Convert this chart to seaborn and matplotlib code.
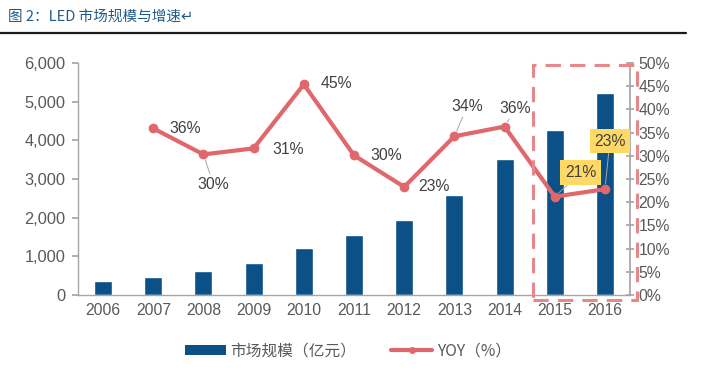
import numpy as np
import pandas as pd
import matplotlib
matplotlib.use("Agg")
import matplotlib.pyplot as plt
from matplotlib.patches import Rectangle
from matplotlib.lines import Line2D
import matplotlib.transforms as mtransforms
import seaborn as sns

years = ["2006", "2007", "2008", "2009", "2010", "2011", "2012", "2013", "2014", "2015", "2016"]
market_size = [370, 475, 630, 830, 1215, 1550, 1940, 2585, 3515, 4265, 5225]
yoy_years = ["2007", "2008", "2009", "2010", "2011", "2012", "2013", "2014", "2015", "2016"]
yoy = [35.9, 30.3, 31.6, 45.4, 30.1, 23.3, 34.2, 36.3, 21.2, 22.8]
yoy_labels = ["36%", "30%", "31%", "45%", "30%", "23%", "34%", "36%", "21%", "23%"]
left_ticks = [0, 1000, 2000, 3000, 4000, 5000, 6000]
right_ticks = [0, 5, 10, 15, 20, 25, 30, 35, 40, 45, 50]
title = "图 2：LED 市场规模与增速"
legend_bar = "市场规模（亿元）"
legend_line = "YOY（%）"

sns.set_theme(style="white")
plt.rcParams["font.family"] = ["Liberation Sans", "Noto Sans CJK SC", "DejaVu Sans"]

BAR = "#0B5087"
LINE = "#E0676C"
TXT = "#595959"
AXC = "#A6A6A6"

fig = plt.figure(figsize=(7.26, 3.74), dpi=100)
ax = fig.add_axes([78 / 726, 1 - 295 / 374, (630 - 78) / 726, (295 - 63) / 374])

df = pd.DataFrame({"year": years, "size": market_size})
sns.barplot(data=df, x="year", y="size", color=BAR, width=0.36, ax=ax,
            saturation=1, order=years)
ax.set_xlim(-0.5, len(years) - 0.5)
ax.set_ylim(0, 6000)
ax.set_yticks(left_ticks)
ax.set_yticklabels([f"{v:,}" for v in left_ticks])
ax.set_xlabel("")
ax.set_ylabel("")
for s in ["top", "right"]:
    ax.spines[s].set_visible(False)
for s in ["left", "bottom"]:
    ax.spines[s].set_color(AXC)
    ax.spines[s].set_linewidth(1.0)
ax.set_xticks(range(len(years)))
ax.set_xticklabels(years)
ax.tick_params(axis="x", length=0, labelsize=11.3, labelcolor=TXT, pad=6)
ax.set_xticks(np.arange(-0.5, len(years), 1.0), minor=True)
ax.tick_params(axis="x", which="minor", length=4, color=AXC, direction="out")
ax.tick_params(axis="y", length=4, color=AXC, direction="out", labelsize=11.8,
               labelcolor=TXT, left=True, pad=5)

ax2 = ax.twinx()
xpos = [years.index(y) for y in yoy_years]
ldf = pd.DataFrame({"x": xpos, "yoy": yoy})
sns.lineplot(data=ldf, x="x", y="yoy", ax=ax2, color=LINE, linewidth=3,
             marker="o", markersize=7, markeredgewidth=0, legend=False)
ax2.set_ylim(0, 50)
ax2.set_xlim(-0.5, len(years) - 0.5)
ax2.set_yticks(right_ticks)
ax2.set_yticklabels([f"{v}%" for v in right_ticks])
ax2.set_xlabel("")
ax2.set_ylabel("")
for s in ["top", "left", "bottom"]:
    ax2.spines[s].set_visible(False)
ax2.spines["right"].set_color(AXC)
ax2.tick_params(axis="y", length=6, color=AXC, direction="inout", labelsize=11.3,
                labelcolor=TXT, right=True, pad=3)

# data labels (offsets in pixels)
offsets = [(32, 0), (10, -30), (34, -1), (33, 1), (32, 0), (30, 0), (13, 30), (11, 18), (26, 24), (5, 48)]
leaders = [False, True, False, False, False, False, True, True, True, True]
for i, (xp, v, lab) in enumerate(zip(xpos, yoy, yoy_labels)):
    dx, dy = offsets[i]
    boxed = i >= 8
    kw = dict(textcoords="offset pixels", xytext=(dx, dy), ha="center", va="center",
              fontsize=11.3, color="#404040", family=["Liberation Sans", "DejaVu Sans"])
    if boxed:
        kw["bbox"] = dict(boxstyle="square,pad=0.3", fc="#FFD966", ec="none")
    if leaders[i]:
        kw["arrowprops"] = dict(arrowstyle="-", color="#A6A6A6", lw=0.7, shrinkA=0, shrinkB=4)
    ax2.annotate(lab, xy=(xp, v), zorder=6, **kw)

# dashed highlight rectangle around 2015-2016
trans = mtransforms.blended_transform_factory(ax.transData, ax.transAxes)
rect = Rectangle((8.57, -0.02), 10.64 - 8.57, 1.01, transform=trans, fill=False,
                 ec="#E8878B", lw=2.2, ls=(0, (5, 3)), clip_on=False, zorder=10)
fig.add_artist(rect)

# title and separator line
fig.text(8 / 726, 1 - 17 / 374, title + "↵", fontsize=10.5, color="#1F5A8A",
         family=["Noto Sans CJK SC", "DejaVu Sans"], va="center", ha="left")
fig.add_artist(Line2D([0, 686 / 726], [1 - 33 / 374, 1 - 33 / 374], color="#1A1A1A", lw=1.6))

# legend
handles = [Rectangle((0, 0), 1, 1, fc=BAR, ec="none"),
           Line2D([0], [0], color=LINE, lw=3, marker="o", markersize=5, markeredgewidth=0)]
fig.legend(handles, [legend_bar, legend_line], loc="center", ncol=2,
           bbox_to_anchor=(348 / 726, 1 - 351 / 374), frameon=False, handlelength=2.6,
           handleheight=0.55, columnspacing=2.2, handletextpad=0.3,
           prop={"family": ["Noto Sans CJK SC", "DejaVu Sans"], "size": 11.3},
           labelcolor=TXT)

fig.savefig("out.png", dpi=100)
